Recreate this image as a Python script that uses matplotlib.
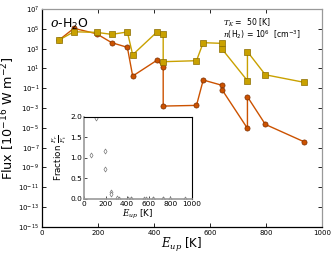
import matplotlib
matplotlib.use("Agg")
import matplotlib.pyplot as plt
import numpy as np

# upper-level energies [K] (ordered as connected in the plot)
e_up = [61, 114, 195, 249, 305, 324, 412, 433, 433, 552, 576, 644, 644,
        734, 734, 798, 936]
# log10 flux [1e-16 W m-2]
log_flux_sq = [3.87, 4.70, 4.64, 4.44, 4.68, 2.38, 4.71, 4.50, 1.68, 1.78,
               3.60, 3.53, 2.93, -0.24, 2.69, 0.36, -0.40]
log_flux_ci = [3.87, 5.05, 4.50, 3.60, 3.13, 0.23, 1.85, 1.14, -2.80, -2.73,
               -0.17, -0.71, -1.18, -5.05, -1.86, -4.65, -6.40]

# inset: flux ratio
e_ratio = [61, 114, 195, 195, 249, 249, 305, 324, 412, 433, 433, 552, 576,
           644, 644, 734, 734, 798, 936]
ratio = [1.08, 1.97, 1.17, 0.74, 0.18, 0.13, 0.03, 0.01, 0.01, 0.0, 0.0,
         0.0, 0.0, 0.0, 0.0, 0.0, 0.0, 0.0, 0.0]

gold = "#c9a100"
gold_edge = "#8a6d00"
orange = "#cc5200"
orange_edge = "#7a2e00"

plt.rcParams["mathtext.fontset"] = "custom"
plt.rcParams["mathtext.rm"] = "DejaVu Sans"
plt.rcParams["mathtext.it"] = "DejaVu Serif:italic"

fig = plt.figure(figsize=(3.36, 2.57), dpi=100)
ax = fig.add_axes([0.125, 0.117, 0.833, 0.848])

ax.plot(e_up, 10.0 ** np.array(log_flux_ci), "-o", color=orange, lw=1.0,
        ms=3.7, mfc=orange, mec=orange_edge, mew=0.5)
ax.plot(e_up, 10.0 ** np.array(log_flux_sq), "-s", color=gold, lw=1.0,
        ms=3.7, mfc=gold, mec=gold_edge, mew=0.5)

ax.set_yscale("log")
ax.set_xlim(0, 1000)
ax.set_ylim(1e-15, 1e7)
ax.set_yticks([10.0 ** k for k in range(-15, 8, 2)])
ax.minorticks_off()
ax.set_xticks(range(0, 1001, 200))
ax.tick_params(direction="in", labelsize=5, length=3, width=0.6,
               top=True, right=True, pad=2)
for s in ["top", "right"]:
    ax.spines[s].set_color("#999999")
for s in ax.spines.values():
    s.set_linewidth(0.9)

ax.set_xlabel(r"$E_{up}$ [K]", fontsize=8.5, labelpad=0)
ax.set_ylabel(r"Flux [10$^{-16}$ W m$^{-2}$]", fontsize=9.2, labelpad=1)

ax.text(0.03, 0.965, r"$o$-H$_2$O", transform=ax.transAxes, fontsize=9,
        va="top", ha="left")
ax.text(0.645, 0.965, "$T_K$ =  50 [K]\n$n$(H$_2$) = 10$^6$  [cm$^{-3}$]",
        transform=ax.transAxes, fontsize=5.6, va="top", ha="left",
        linespacing=0.95)

# inset
ins = fig.add_axes([0.25, 0.226, 0.321, 0.319])
ins.plot(e_ratio, ratio, "d", ms=2.6, mfc="white", mec="#777777", mew=0.5,
         clip_on=True)
ins.set_xlim(0, 1000)
ins.set_ylim(0, 2.0)
ins.set_xticks(range(0, 1001, 200))
ins.set_yticks([0.0, 0.5, 1.0, 1.5, 2.0])
ins.tick_params(direction="in", labelsize=5.3, length=2, width=0.5, pad=1.5)
for s in ["left", "bottom"]:
    ins.spines[s].set_color("#999999")
    ins.spines[s].set_linewidth(1.2)
for s in ["top", "right"]:
    ins.spines[s].set_linewidth(0.8)
ins.set_xlabel(r"$E_{up}$ [K]", fontsize=6.3, labelpad=1)
ins.set_ylabel(r"Fraction $\frac{F_r}{F_t}$", fontsize=6.3, labelpad=1)

fig.savefig("out.png", dpi=100)
